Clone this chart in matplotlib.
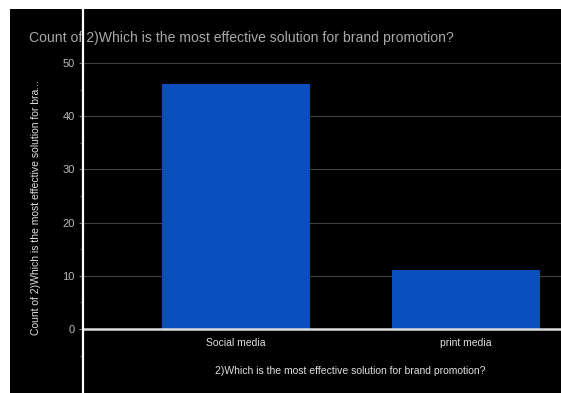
import matplotlib
matplotlib.use("Agg")
import matplotlib.pyplot as plt
from matplotlib.patches import Rectangle
from matplotlib.transforms import ScaledTranslation

categories = ["Social media", "print media"]
counts = [46, 11]
y_major = [0, 10, 20, 30, 40, 50]
y_minor = [-5, 5, 15, 25, 35, 45]

title = "Count of 2)Which is the most effective solution for brand promotion?"
x_label = "2)Which is the most effective solution for brand promotion?"
y_label = "Count of 2)Which is the most effective solution for bra..."

plt.rcParams["font.family"] = ["Liberation Sans", "DejaVu Sans"]

W, H = 561, 393
fig = plt.figure(figsize=(W / 100, H / 100), dpi=100, facecolor="white")

# dark panel behind the chart
fig.patches.append(Rectangle((10 / W, 0), 1 - 10 / W, 1 - 9 / H,
                             transform=fig.transFigure, facecolor="black",
                             edgecolor="none", zorder=-10))

ax_left, ax_right = 83 / W, 1.0
ax_bottom, ax_top = 0.0, 1 - 9 / H
ax = fig.add_axes([ax_left, ax_bottom, ax_right - ax_left, ax_top - ax_bottom])
ax.set_facecolor("none")
ax.set_zorder(2)

px_per_unit = (329 - 63) / 50.0
ax.set_ylim(-(393 - 329) / px_per_unit, (329 - 9) / px_per_unit)
spacing = 465.5 - 236
ax.set_xlim(-(236 - 83) / spacing, 1 + (561 - 465.5) / spacing)

x = list(range(len(categories)))
ax.bar(x, counts, width=148 / spacing, color="#0b4fbd", zorder=2)

ax.set_yticks(y_major)
ax.set_yticks(y_minor, minor=True)
ax.set_yticklabels([str(v) for v in y_major], color="#b8b8b8", fontsize=8)
ax.tick_params(axis="y", which="major", length=3, color="#777777", width=0.8, pad=3)
ax.tick_params(axis="y", which="minor", length=2, color="#555555", width=0.8)
for v in y_major[1:]:
    ax.axhline(v, color="#404040", linewidth=0.8, zorder=1)
ax.axhline(0, color="#dcdcdc", linewidth=1.8, zorder=3)

# category labels sit just under the zero line
ax.set_xticks([])
label_shift = ScaledTranslation(0, -14 / 100, fig.dpi_scale_trans)
for xi, name in zip(x, categories):
    ax.text(xi, 0, name, transform=ax.transData + label_shift,
            color="#e0e0e0", fontsize=7.5, ha="center", va="center")

for s in ["top", "right", "bottom"]:
    ax.spines[s].set_visible(False)
ax.spines["left"].set_color("white")
ax.spines["left"].set_linewidth(1.6)
ax.spines["left"].set_zorder(5)

fig.text(29 / W, 1 - 38 / H, title, color="#a8a8a8", fontsize=10.1,
         ha="left", va="center", zorder=1)
fig.text(350 / W, 1 - 371 / H, x_label, color="#e0e0e0", fontsize=7.5,
         ha="center", va="center")
fig.text(36 / W, 1 - 208 / H, y_label, color="#e0e0e0", fontsize=7.5,
         ha="center", va="center", rotation=90)

fig.savefig("out.png", dpi=100, facecolor="white")
